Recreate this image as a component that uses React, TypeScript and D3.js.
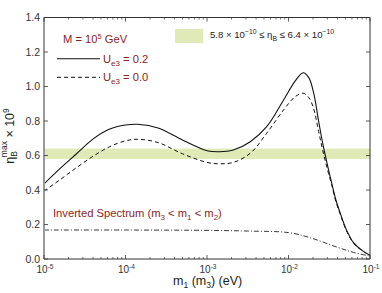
import * as d3 from 'd3';

// m1 (m3) in eV, shared grid for the two normal-hierarchy curves
const massGrid = [
  1.0e-5, 1.58e-5, 2.51e-5, 3.98e-5, 6.31e-5, 1.0e-4, 1.41e-4, 2.51e-4, 5.0e-4,
  1.0e-3, 1.41e-3, 2.1e-3, 3.4e-3, 5.4e-3, 8.7e-3, 1.2e-2, 1.51e-2, 1.78e-2,
  2.04e-2, 2.34e-2, 2.63e-2, 3.09e-2, 3.39e-2, 3.8e-2, 4.27e-2, 5.13e-2, 6.31e-2,
  8.3e-2, 1.0e-1,
];
const etaUe3High = [
  0.435, 0.525, 0.61, 0.695, 0.752, 0.777, 0.781, 0.76, 0.69,
  0.628, 0.622, 0.632, 0.68, 0.767, 0.922, 1.03, 1.08, 1.05,
  0.96, 0.8, 0.67, 0.52, 0.44, 0.345, 0.272, 0.17, 0.093,
  0.044, 0.022,
];
const etaUe3Zero = [
  0.394, 0.46, 0.53, 0.595, 0.65, 0.685, 0.694, 0.675, 0.61,
  0.56, 0.552, 0.56, 0.613, 0.729, 0.864, 0.94, 0.961, 0.935,
  0.87, 0.74, 0.63, 0.497, 0.43, 0.335, 0.265, 0.165, 0.09,
  0.043, 0.02,
];
const invertedMass = [1e-5, 1e-4, 1e-3, 3.16e-3, 1e-2, 1.8e-2, 3.98e-2, 6.31e-2, 1e-1];
const etaInverted = [0.168, 0.168, 0.166, 0.162, 0.153, 0.125, 0.068, 0.038, 0.017];

const bandRange = [0.58, 0.64];
const yTickValues = [0, 0.2, 0.4, 0.6, 0.8, 1.0, 1.2, 1.4];
const xTickExponents = ['-5', '-4', '-3', '-2', '-1'];
const xTickValues = [1e-5, 1e-4, 1e-3, 1e-2, 1e-1];

const width = 382;
const height = 293;
const margin = { top: 17.5, right: 12, bottom: 34, left: 44 };
const font = '"Liberation Sans", Arial, Helvetica, sans-serif';
const red = '#8b1e1e';
const bandColor = '#dfeab6';

export default function App() {
  const x = d3.scaleLog().domain([1e-5, 1e-1]).range([margin.left, width - margin.right]);
  const y = d3.scaleLinear().domain([0, 1.4]).range([height - margin.bottom, margin.top]);
  const x0 = margin.left;
  const x1 = width - margin.right;
  const yTop = margin.top;
  const yBot = height - margin.bottom;

  const line = d3
    .line<[number, number]>()
    .x((d) => x(d[0]))
    .y((d) => y(d[1]))
    .curve(d3.curveCatmullRom.alpha(0.5));

  const solid = line(massGrid.map((m, i) => [m, etaUe3High[i]]));
  const dashed = line(massGrid.map((m, i) => [m, etaUe3Zero[i]]));
  const dashDot = line(invertedMass.map((m, i) => [m, etaInverted[i]]));

  const minorX = x.ticks().filter((t) => !xTickValues.some((v) => Math.abs(v - t) / v < 1e-6));

  return (
    <svg
      width={width}
      height={height}
      style={{ position: 'absolute', left: 0, top: 0, background: '#fff' }}
      fontFamily={font}
    >
      <defs>
        <clipPath id="plot">
          <rect x={x0} y={yTop} width={x1 - x0} height={yBot - yTop} />
        </clipPath>
      </defs>

      <rect
        x={x0}
        y={y(bandRange[1])}
        width={x1 - x0}
        height={y(bandRange[0]) - y(bandRange[1])}
        fill={bandColor}
      />

      <g clipPath="url(#plot)" fill="none">
        <path d={solid ?? ''} stroke="#111" strokeWidth={1.1} />
        <path d={dashed ?? ''} stroke="#111" strokeWidth={1} strokeDasharray="4,3" />
        <path d={dashDot ?? ''} stroke="#222" strokeWidth={0.9} strokeDasharray="5,2,1,2" />
      </g>

      {/* frame */}
      <line x1={x0} x2={x1} y1={yTop} y2={yTop} stroke="#333" strokeWidth={1} />
      <line x1={x0} x2={x1} y1={yBot} y2={yBot} stroke="#333" strokeWidth={1} />
      <line x1={x1} x2={x1} y1={yTop} y2={yBot} stroke="#333" strokeWidth={1} />
      <line x1={x0} x2={x0} y1={yTop} y2={yBot} stroke="#999" strokeWidth={2} />

      {/* x ticks */}
      {xTickValues.map((t) => (
        <g key={'xm' + t} stroke="#333" strokeWidth={0.8}>
          <line x1={x(t)} x2={x(t)} y1={yBot} y2={yBot - 4} />
          <line x1={x(t)} x2={x(t)} y1={yTop} y2={yTop + 4} />
        </g>
      ))}
      {minorX.map((t) => (
        <g key={'xn' + t} stroke="#333" strokeWidth={0.7}>
          <line x1={x(t)} x2={x(t)} y1={yBot} y2={yBot - 2} />
          <line x1={x(t)} x2={x(t)} y1={yTop} y2={yTop + 2} />
        </g>
      ))}
      {xTickValues.map((t, i) => (
        <text key={'xl' + t} x={x(t) + 1} y={yBot + 14} fontSize={10} fill="#333" textAnchor="middle">
          10
          <tspan fontSize={6.5} dy={-4.5}>
            {xTickExponents[i]}
          </tspan>
        </text>
      ))}

      {/* y ticks */}
      {yTickValues.map((t) => (
        <g key={'y' + t}>
          <line x1={x0} x2={x0 + 4} y1={y(t)} y2={y(t)} stroke="#333" strokeWidth={0.8} />
          <line x1={x1} x2={x1 - 4} y1={y(t)} y2={y(t)} stroke="#333" strokeWidth={0.8} />
          <text x={x0 - 4} y={y(t) + 3.6} fontSize={10.5} fill="#333" textAnchor="end">
            {t.toFixed(1)}
          </text>
        </g>
      ))}

      {/* axis titles */}
      <text x={173} y={285} fontSize={12.5} fill="#222">
        m<tspan fontSize={8.5} dy={3}>1</tspan>
        <tspan dy={-3}> (m</tspan>
        <tspan fontSize={8.5} dy={3}>3</tspan>
        <tspan dy={-3}>) (eV)</tspan>
      </text>
      <text transform={`translate(13.5, 136) rotate(-90)`} fontSize={12.5} fill="#222" textAnchor="middle">
        η<tspan fontSize={8.5} dy={3}>B</tspan>
        <tspan fontSize={8.5} dx={-6} dy={-10}>max</tspan>
        <tspan dy={7}> × 10</tspan>
        <tspan fontSize={8.5} dy={-5}>9</tspan>
      </text>

      {/* legend */}
      <text x={63} y={43} fontSize={11.2} fill={red}>
        M = 10<tspan fontSize={7.5} dy={-4.5}>5</tspan>
        <tspan dy={4.5}> GeV</tspan>
      </text>
      <line x1={57} x2={100} y1={58.7} y2={58.7} stroke="#111" strokeWidth={1.1} />
      <text x={103} y={62.5} fontSize={11.2} fill={red}>
        U<tspan fontSize={8} dy={3}>e3</tspan>
        <tspan dy={-3}> = 0.2</tspan>
      </text>
      <line x1={57} x2={100} y1={77.3} y2={77.3} stroke="#111" strokeWidth={1} strokeDasharray="4,3" />
      <text x={103} y={81} fontSize={11.2} fill={red}>
        U<tspan fontSize={8} dy={3}>e3</tspan>
        <tspan dy={-3}> = 0.0</tspan>
      </text>

      <rect x={175} y={29} width={28} height={14} fill={bandColor} />
      <text x={210} y={38} fontSize={9.6} fill="#222">
        5.8 × 10<tspan fontSize={6.8} dy={-4}>−10</tspan>
        <tspan dy={4}> ≤ η</tspan>
        <tspan fontSize={6.8} dy={2.5}>B</tspan>
        <tspan dy={-2.5}> ≤  6.4 × 10</tspan>
        <tspan fontSize={6.8} dy={-4}>−10</tspan>
      </text>

      <text x={53} y={216.5} fontSize={11.2} fill={red}>
        Inverted Spectrum (m<tspan fontSize={8} dy={3}>3</tspan>
        <tspan dy={-3}> &lt; m</tspan>
        <tspan fontSize={8} dy={3}>1</tspan>
        <tspan dy={-3}> &lt; m</tspan>
        <tspan fontSize={8} dy={3}>2</tspan>
        <tspan dy={-3}>)</tspan>
      </text>
    </svg>
  );
}
